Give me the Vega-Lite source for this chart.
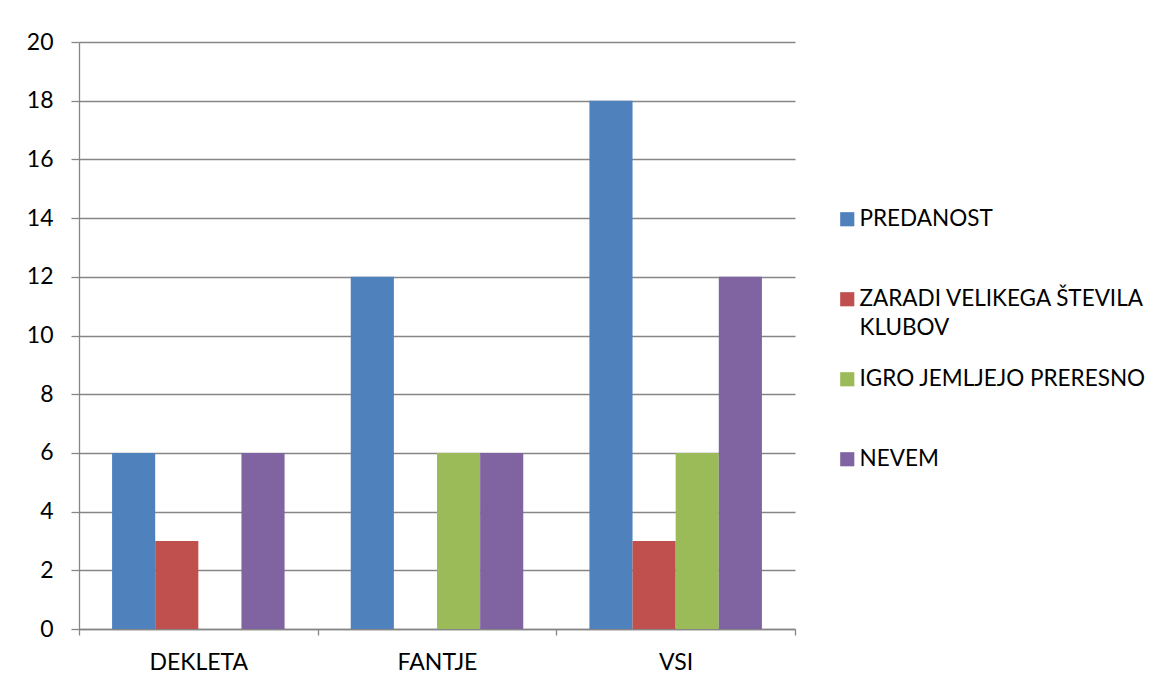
{
  "$schema": "https://vega.github.io/schema/vega-lite/v6.json",
  "width": 716,
  "height": 587,
  "autosize": "none",
  "padding": {"left": 79, "top": 42, "right": 364, "bottom": 60},
  "background": "white",
  "data": {
    "values": [
      {"skupina": "DEKLETA", "razlog": "PREDANOST", "vrednost": 6},
      {"skupina": "DEKLETA", "razlog": "ZARADI VELIKEGA ŠTEVILA KLUBOV", "vrednost": 3},
      {"skupina": "DEKLETA", "razlog": "IGRO JEMLJEJO PRERESNO", "vrednost": 0},
      {"skupina": "DEKLETA", "razlog": "NEVEM", "vrednost": 6},
      {"skupina": "FANTJE", "razlog": "PREDANOST", "vrednost": 12},
      {"skupina": "FANTJE", "razlog": "ZARADI VELIKEGA ŠTEVILA KLUBOV", "vrednost": 0},
      {"skupina": "FANTJE", "razlog": "IGRO JEMLJEJO PRERESNO", "vrednost": 6},
      {"skupina": "FANTJE", "razlog": "NEVEM", "vrednost": 6},
      {"skupina": "VSI", "razlog": "PREDANOST", "vrednost": 18},
      {"skupina": "VSI", "razlog": "ZARADI VELIKEGA ŠTEVILA KLUBOV", "vrednost": 3},
      {"skupina": "VSI", "razlog": "IGRO JEMLJEJO PRERESNO", "vrednost": 6},
      {"skupina": "VSI", "razlog": "NEVEM", "vrednost": 12}
    ]
  },
  "mark": {"type": "bar"},
  "encoding": {
    "x": {
      "field": "skupina",
      "type": "nominal",
      "sort": ["DEKLETA", "FANTJE", "VSI"],
      "scale": {"paddingInner": 0, "paddingOuter": 0},
      "axis": {
        "title": null,
        "labelAngle": 0,
        "tickBand": "extent",
        "tickSize": 6,
        "tickColor": "#868686",
        "tickWidth": 1.3,
        "domainColor": "#868686",
        "domainWidth": 1.3,
        "labelPadding": 16,
        "labelFontSize": 23,
        "labelFont": "Lato",
        "labelColor": "#000000",
        "grid": false
      }
    },
    "xOffset": {
      "field": "razlog",
      "type": "nominal",
      "sort": ["PREDANOST", "ZARADI VELIKEGA ŠTEVILA KLUBOV", "IGRO JEMLJEJO PRERESNO", "NEVEM"],
      "scale": {"paddingInner": 0, "paddingOuter": 0.767}
    },
    "y": {
      "field": "vrednost",
      "type": "quantitative",
      "scale": {"domain": [0, 20], "nice": false},
      "axis": {
        "title": null,
        "values": [0, 2, 4, 6, 8, 10, 12, 14, 16, 18, 20],
        "grid": true,
        "gridColor": "#868686",
        "gridWidth": 1.3,
        "tickSize": 8,
        "tickColor": "#868686",
        "tickWidth": 1.3,
        "domainColor": "#868686",
        "domainWidth": 1.3,
        "labelPadding": 18,
        "labelFontSize": 23,
        "labelFont": "Lato",
        "labelColor": "#000000"
      }
    },
    "color": {
      "field": "razlog",
      "type": "nominal",
      "sort": ["PREDANOST", "ZARADI VELIKEGA ŠTEVILA KLUBOV", "IGRO JEMLJEJO PRERESNO", "NEVEM"],
      "scale": {
        "domain": ["PREDANOST", "ZARADI VELIKEGA ŠTEVILA KLUBOV", "IGRO JEMLJEJO PRERESNO", "NEVEM"],
        "range": ["#4F81BD", "#C0504D", "#9BBB59", "#8064A2"]
      },
      "legend": {
        "title": null,
        "orient": "none",
        "legendX": 757,
        "legendY": 166,
        "symbolType": "square",
        "symbolSize": 200,
        "symbolStrokeWidth": 0,
        "labelFont": "Lato",
        "labelFontSize": 22.5,
        "labelColor": "#000000",
        "labelOffset": 1,
        "labelLimit": 400,
        "labelBaseline": "middle",
        "rowPadding": 28,
        "labelExpr": "datum.label == 'ZARADI VELIKEGA ŠTEVILA KLUBOV' ? ['ZARADI VELIKEGA ŠTEVILA', 'KLUBOV'] : [datum.label, ' ']",
        "encode": {
          "labels": {
            "update": {
              "lineHeight": {"value": 29}
            }
          }
        }
      }
    }
  },
  "config": {
    "view": {"stroke": null}
  }
}
